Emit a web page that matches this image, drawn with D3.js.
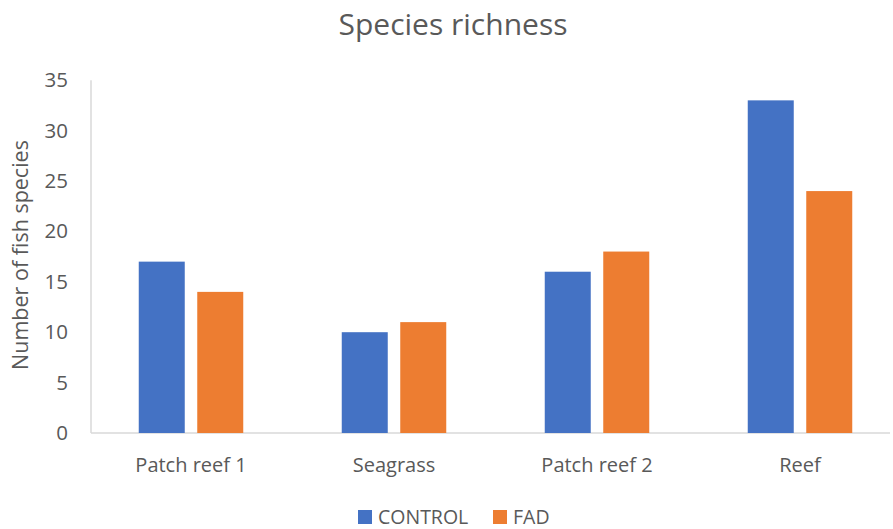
<!DOCTYPE html>
<html><head><meta charset="utf-8">
<script src="https://cdn.jsdelivr.net/npm/d3@7"></script>
<style>body{margin:0;background:#fff}svg{display:block}text{font-family:"Open Sans",sans-serif;fill:#595959}</style>
</head><body><svg id="c" width="893" height="529"></svg>
<script>
const categories = ["Patch reef 1", "Seagrass", "Patch reef 2", "Reef"];
const seriesNames = ["CONTROL", "FAD"];
const controlValues = [17, 10, 16, 33];
const fadValues = [14, 11, 18, 24];
const yTicks = [0, 5, 10, 15, 20, 25, 30, 35];
const colors = ["#4472C4", "#ED7D31"];

const svg = d3.select("#c");
const m = {left: 91, right: 890, top: 80.2, bottom: 433};
const x = d3.scaleBand().domain(categories).range([89.5, 901.5]).paddingInner(0).paddingOuter(0);
const y = d3.scaleLinear().domain([0, 35]).range([m.bottom, m.top]);
const barW = 46, gap = 12.5;

// title
svg.append("text").attr("x", 453).attr("y", 35).attr("text-anchor", "middle")
  .style("font-size", "30px").text("Species richness");

// y axis
const ya = svg.append("g").attr("transform", `translate(${m.left},0)`)
  .call(d3.axisLeft(y).tickValues(yTicks).tickSize(0).tickPadding(23));
ya.select(".domain").remove();
ya.selectAll("text").style("font-size", "20.5px").style("fill", "#595959").attr("font-family", null);

// x axis
const xa = svg.append("g").attr("transform", `translate(0,${m.bottom})`)
  .call(d3.axisBottom(x).tickSize(0).tickPadding(25));
xa.select(".domain").remove();
xa.selectAll("text").style("font-size", "20px").style("fill", "#595959").attr("font-family", null);

// axis lines
svg.append("line").attr("x1", m.left).attr("x2", m.left).attr("y1", m.top).attr("y2", m.bottom)
  .attr("stroke", "#D9D9D9").attr("stroke-width", 1.5);
svg.append("line").attr("x1", m.left).attr("x2", m.right).attr("y1", m.bottom).attr("y2", m.bottom)
  .attr("stroke", "#D9D9D9").attr("stroke-width", 1.5);

// bars
const series = [controlValues, fadValues];
series.forEach((vals, si) => {
  svg.append("g").selectAll("rect").data(vals).join("rect")
    .attr("x", (d, i) => x(categories[i]) + x.bandwidth() / 2 + (si === 0 ? -(barW + gap / 2) : gap / 2))
    .attr("y", d => y(d))
    .attr("width", barW)
    .attr("height", d => y(0) - y(d))
    .attr("fill", colors[si]);
});

// y title
svg.append("text").attr("transform", "translate(28,255) rotate(-90)").attr("text-anchor", "middle")
  .style("font-size", "21.5px").text("Number of fish species");

// legend
const legX = [358, 493];
seriesNames.forEach((n, i) => {
  svg.append("rect").attr("x", legX[i]).attr("y", 510).attr("width", 14).attr("height", 14).attr("fill", colors[i]);
  svg.append("text").attr("x", legX[i] + 20).attr("y", 524).style("font-size", "19.5px").text(n);
});
</script></body></html>
